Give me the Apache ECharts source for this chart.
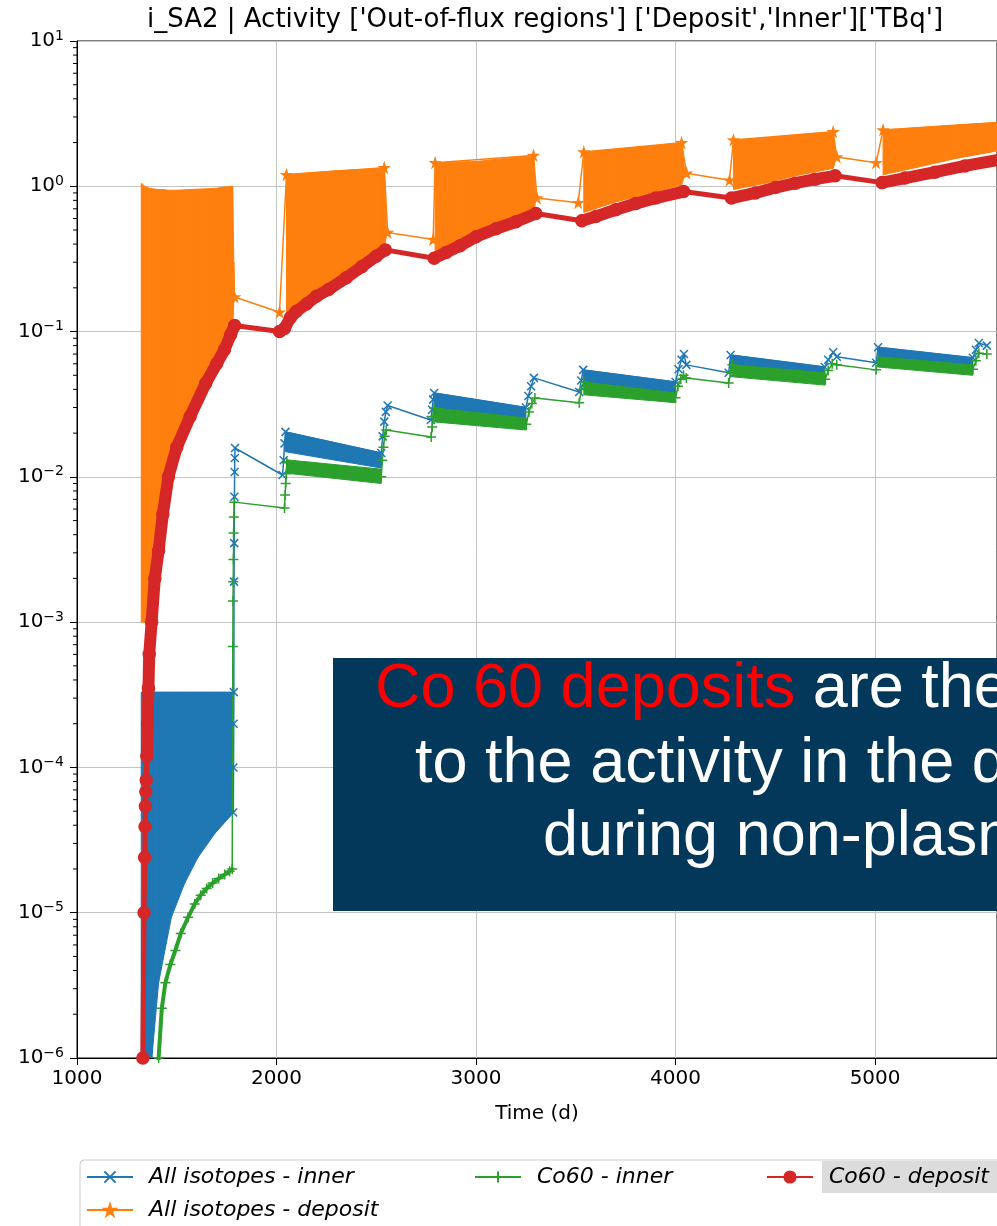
<!DOCTYPE html>
<html>
<head>
<meta charset="utf-8">
<script src="https://cdn.jsdelivr.net/npm/echarts@6/dist/echarts.min.js"></script>
<style>
html, body { margin: 0; padding: 0; background: #fff; }
#main { width: 997px; height: 1226px; }
</style>
</head>
<body>
<div id="main"></div>
<script>
// axis ticks
var xTicks = [1000, 2000, 3000, 4000, 5000];
var yTickExp = [-6, -5, -4, -3, -2, -1, 0, 1];

// Co60 - deposit, one array per operating phase: [day, TBq]
var depCo60P1 = [[1328, 4e-7], [1330, 1e-6], [1336, 1e-5], [1339, 2.4e-5], [1341, 3.9e-5], [1343, 5.4e-5],
  [1345, 6.8e-5], [1347, 8.2e-5], [1350, 1.2e-4], [1354, 2e-4], [1358, 3.5e-4], [1362, 6e-4], [1374, 1e-3],
  [1390, 2e-3], [1409, 3.1e-3], [1430, 5.5e-3], [1458, 1e-2], [1500, 1.6e-2], [1567, 2.6e-2], [1645, 4.4e-2],
  [1700, 6e-2], [1739, 7.5e-2], [1770, 9.5e-2], [1790, 0.11]];
var depCo60P2 = [[2015, 0.10], [2040, 0.105], [2070, 0.125], [2100, 0.138], [2150, 0.155], [2200, 0.175],
  [2261, 0.195], [2350, 0.235], [2428, 0.28], [2500, 0.33], [2545, 0.365]];
var depCo60P3 = [[2790, 0.32], [2850, 0.35], [2920, 0.39], [3000, 0.45], [3100, 0.51], [3200, 0.57], [3300, 0.65]];
var depCo60P4 = [[3530, 0.58], [3600, 0.62], [3700, 0.69], [3800, 0.76], [3900, 0.83], [4040, 0.92]];
var depCo60P5 = [[4280, 0.83], [4400, 0.9], [4500, 0.98], [4600, 1.05], [4700, 1.12], [4800, 1.18]];
var depCo60P6 = [[5035, 1.06], [5150, 1.14], [5300, 1.25], [5450, 1.38], [5620, 1.52]];

// All isotopes - deposit: pulsed band per phase [day, peak, floor] and the connecting line
var depAllBandP1 = [[1322, 1.05, 1e-3], [1340, 1.0, 1e-3], [1362, 0.97, 1e-3], [1380, 0.96, 1.5e-3],
  [1409, 0.95, 3.3e-3], [1430, 0.95, 6e-3], [1458, 0.94, 1.1e-2], [1500, 0.94, 1.7e-2], [1567, 0.95, 2.8e-2],
  [1645, 0.96, 4.7e-2], [1700, 0.97, 6.4e-2], [1739, 0.99, 8e-2], [1780, 1.0, 0.105], [1786, 0.3, 0.16],
  [1790, 0.18, 0.17]];
var depAllBandP2 = [[2050, 1.2, 0.12], [2100, 1.22, 0.14], [2200, 1.25, 0.18], [2300, 1.28, 0.23],
  [2400, 1.3, 0.27], [2500, 1.32, 0.34], [2540, 1.34, 0.38], [2550, 0.55, 0.45]];
var depAllBandP3 = [[2795, 1.45, 0.33], [2900, 1.47, 0.39], [3000, 1.48, 0.46], [3100, 1.53, 0.52],
  [3200, 1.58, 0.58], [3288, 1.63, 0.65], [3298, 0.9, 0.78]];
var depAllBandP4 = [[3540, 1.72, 0.66], [3700, 1.8, 0.78], [3850, 1.88, 0.88], [4030, 1.99, 1.02], [4045, 1.3, 1.18]];
var depAllBandP5 = [[4290, 2.08, 0.95], [4450, 2.15, 1.05], [4600, 2.25, 1.18], [4790, 2.37, 1.33], [4803, 1.65, 1.52]];
var depAllBandP6 = [[5040, 2.44, 1.2], [5200, 2.52, 1.34], [5400, 2.63, 1.55], [5620, 2.75, 1.76]];
var depAllLine = [[1790, 0.173], [2015, 0.136], [2050, 1.2], [2540, 1.34], [2557, 0.48], [2785, 0.43],
  [2795, 1.45], [3288, 1.63], [3305, 0.83], [3512, 0.77], [3540, 1.72], [4030, 1.99], [4055, 1.23],
  [4270, 1.1], [4290, 2.08], [4790, 2.37], [4808, 1.59], [5005, 1.45], [5040, 2.44], [5620, 2.75]];

// All isotopes - inner
var innAllBandP1 = [[1322, 3.3e-4, 1e-6], [1375, 3.3e-4, 1e-6], [1409, 3.3e-4, 3.3e-6], [1473, 3.3e-4, 9.3e-6],
  [1540, 3.3e-4, 1.6e-5], [1606, 3.3e-4, 2.4e-5], [1690, 3.3e-4, 3.5e-5], [1785, 3.3e-4, 4.9e-5]];
var innAllBandP2 = [[2045, 0.0204, 0.0149], [2525, 0.0146, 0.0115]];
var innAllBandP3 = [[2790, 0.0378, 0.029], [3250, 0.030, 0.0245]];
var innAllBandP4 = [[3537, 0.0545, 0.042], [4000, 0.045, 0.036]];
var innAllBandP5 = [[4276, 0.069, 0.055], [4748, 0.057, 0.047]];
var innAllBandP6 = [[5015, 0.078, 0.062], [5490, 0.066, 0.054]];
var innAllLine = [[1783, 4.9e-5], [1784, 1e-4], [1785, 2e-4], [1786, 3.3e-4], [1787, 1.9e-3], [1788, 3.5e-3],
  [1789, 7.3e-3], [1790, 1.08e-2], [1791, 1.35e-2], [1792, 1.58e-2], [2030, 1.03e-2], [2036, 1.3e-2],
  [2040, 1.7e-2], [2045, 2.04e-2], [2525, 1.46e-2], [2532, 1.9e-2], [2540, 2.4e-2], [2548, 2.8e-2],
  [2557, 3.1e-2], [2773, 2.46e-2], [2780, 2.9e-2], [2785, 3.4e-2], [2790, 3.78e-2], [3250, 3.0e-2],
  [3262, 3.6e-2], [3276, 4.2e-2], [3290, 4.8e-2], [3517, 3.84e-2], [3527, 4.6e-2], [3537, 5.45e-2],
  [4000, 4.5e-2], [4015, 5.5e-2], [4030, 6.4e-2], [4042, 7.0e-2], [4054, 5.9e-2], [4266, 5.2e-2],
  [4276, 6.9e-2], [4748, 5.7e-2], [4765, 6.4e-2], [4790, 7.2e-2], [4808, 6.7e-2], [5005, 6.1e-2],
  [5015, 7.8e-2], [5490, 6.6e-2], [5505, 7.5e-2], [5520, 8.35e-2], [5560, 8e-2]];

// Co60 - inner
var innCo60BandP2 = [[2050, 0.0131, 0.0106], [2525, 0.0113, 0.0090]];
var innCo60BandP3 = [[2790, 0.0298, 0.0239], [3252, 0.0254, 0.021]];
var innCo60BandP4 = [[3540, 0.045, 0.0367], [4000, 0.0378, 0.0324]];
var innCo60BandP5 = [[4285, 0.059, 0.0488], [4750, 0.052, 0.0428]];
var innCo60BandP6 = [[5015, 0.067, 0.057], [5490, 0.059, 0.050]];
var innCo60Line = [[1400, 5e-7], [1409, 1.0e-6], [1425, 2.2e-6], [1443, 3.3e-6], [1468, 4.4e-6], [1493, 5.5e-6],
  [1520, 7.2e-6], [1557, 9.3e-6], [1590, 1.15e-5], [1620, 1.32e-5], [1650, 1.47e-5], [1680, 1.6e-5],
  [1710, 1.72e-5], [1740, 1.83e-5], [1765, 1.93e-5], [1778, 2.0e-5], [1781, 6.8e-4], [1782, 1.4e-3],
  [1783, 1.9e-3], [1784, 2.7e-3], [1785, 4.1e-3], [1786, 5.3e-3], [1788, 6.7e-3], [2040, 6.1e-3],
  [2043, 7.5e-3], [2046, 9e-3], [2049, 1.05e-2], [2052, 1.25e-2], [2525, 1.0e-2], [2530, 1.3e-2],
  [2536, 1.6e-2], [2542, 1.9e-2], [2550, 2.1e-2], [2775, 1.88e-2], [2780, 2.2e-2], [2785, 2.6e-2],
  [2790, 2.98e-2], [3252, 2.3e-2], [3265, 2.8e-2], [3280, 3.2e-2], [3295, 3.49e-2], [3517, 3.24e-2],
  [3528, 4.0e-2], [3540, 4.5e-2], [4000, 3.5e-2], [4012, 4.2e-2], [4026, 4.7e-2], [4040, 5.0e-2],
  [4054, 4.8e-2], [4266, 4.43e-2], [4276, 5.2e-2], [4285, 5.9e-2], [4750, 4.7e-2], [4765, 5.4e-2],
  [4785, 6.0e-2], [4808, 5.9e-2], [5005, 5.45e-2], [5015, 6.2e-2], [5490, 5.5e-2], [5505, 6.3e-2],
  [5520, 7.1e-2], [5560, 7.0e-2]];

var BLUE = '#1f77b4', ORANGE = '#ff7f0e', GREEN = '#2ca02c', RED = '#d62728';
var X_PATH = 'path://M0,0L10,10M10,0L0,10';
var PLUS_PATH = 'path://M5,0L5,10M0,5L10,5';
var STAR_PATH = 'path://M50,0L61,35L98,35L68,57L79,91L50,70L21,91L32,57L2,35L39,35Z';
var FONT = 'DejaVu Sans';
var XMIN = 1000, XMAX = 5611;

function bandSeries(rows, color) {
  return {
    type: 'custom', silent: true, clip: true,
    data: rows,
    encode: { x: 0, y: 1 },
    renderItem: function (params, api) {
      var i = params.dataIndex;
      if (i >= rows.length - 1) return null;
      var a = rows[i], b = rows[i + 1];
      return {
        type: 'polygon',
        shape: { points: [api.coord([a[0], a[1]]), api.coord([b[0], b[1]]), api.coord([b[0], b[2]]), api.coord([a[0], a[2]])] },
        style: { fill: color, stroke: color, lineWidth: 1 }
      };
    }
  };
}

function lineSeries(name, rows, color, symbol, size, width) {
  return {
    name: name, type: 'line', data: rows,
    symbol: symbol, symbolSize: size, showSymbol: true,
    lineStyle: { color: color, width: width },
    itemStyle: { color: color, borderColor: color, borderWidth: 1.5 }
  };
}

function thickSeries(rows, color, width) {
  return {
    type: 'line', data: rows, symbol: 'none', silent: true,
    lineStyle: { color: color, width: width, cap: 'round', join: 'round' }
  };
}

// minor ticks of the log axis (2..9 per decade)
var minorTicks = [];
yTickExp.slice(0, -1).forEach(function (e) {
  for (var k = 2; k <= 9; k++) minorTicks.push([XMIN, k * Math.pow(10, e)]);
});

var depCo60All = depCo60P1.concat(depCo60P2, depCo60P3, depCo60P4, depCo60P5, depCo60P6);
var depCo60P1Band = depCo60P1.filter(function (p) { return p[1] >= 1e-4; });
var innCo60P1Curve = innCo60Line.filter(function (p) { return p[0] <= 1778; });

var series = [];
[innAllBandP1, innAllBandP2, innAllBandP3, innAllBandP4, innAllBandP5, innAllBandP6].forEach(function (b) {
  series.push(bandSeries(b, BLUE));
});
series.push(lineSeries('All isotopes - inner', innAllLine, BLUE, X_PATH, 8, 1.5));
[depAllBandP1, depAllBandP2, depAllBandP3, depAllBandP4, depAllBandP5, depAllBandP6].forEach(function (b) {
  series.push(bandSeries(b, ORANGE));
});
series.push(lineSeries('All isotopes - deposit', depAllLine, ORANGE, STAR_PATH, 9, 1.5));
[innCo60BandP2, innCo60BandP3, innCo60BandP4, innCo60BandP5, innCo60BandP6].forEach(function (b) {
  series.push(bandSeries(b, GREEN));
});
series.push(thickSeries(innCo60P1Curve, GREEN, 4));
series.push(lineSeries('Co60 - inner', innCo60Line, GREEN, PLUS_PATH, 10, 1.5));
[depCo60P1Band, depCo60P2, depCo60P3, depCo60P4, depCo60P5, depCo60P6].forEach(function (b) {
  series.push(thickSeries(b, RED, 12));
});
series.push(lineSeries('Co60 - deposit', depCo60All, RED, 'circle', 12, 5));
series.push({
  type: 'custom', silent: true, clip: false, data: minorTicks,
  renderItem: function (params, api) {
    var p = api.coord([api.value(0), api.value(1)]);
    return { type: 'line', shape: { x1: p[0] - 4, y1: p[1], x2: p[0], y2: p[1] }, style: { stroke: '#000', lineWidth: 1 } };
  }
});

var legendText = { fontFamily: FONT, fontStyle: 'italic', fontSize: 22, color: '#000', padding: [0, 0, 0, 11] };
function legendAt(names, left) {
  return {
    data: names, orient: 'vertical', left: left, top: 1166, itemGap: 11, padding: 0,
    itemWidth: 46, itemHeight: 14, selectedMode: false, textStyle: legendText
  };
}

var chart = echarts.init(document.getElementById('main'));
chart.setOption({
  animation: false,
  backgroundColor: '#fff',
  grid: { left: 77, right: -16, top: 41, bottom: 168, show: true, borderColor: '#000', borderWidth: 1 },
  legend: [
    legendAt(['All isotopes - inner', 'All isotopes - deposit'], 86),
    legendAt(['Co60 - inner'], 474),
    legendAt(['Co60 - deposit'], 766)
  ],
  xAxis: {
    type: 'value', min: XMIN, max: XMAX, interval: 1000,
    name: 'Time (d)', nameLocation: 'middle', nameGap: 46,
    nameTextStyle: { fontFamily: FONT, fontSize: 20, color: '#000' },
    axisLine: { lineStyle: { color: '#000', width: 1 } },
    axisTick: { length: 7, lineStyle: { color: '#000' } },
    axisLabel: {
      fontFamily: FONT, fontSize: 20, color: '#000', margin: 11, showMaxLabel: false,
      formatter: function (v) { return xTicks.indexOf(v) >= 0 ? String(v) : ''; }
    },
    splitLine: { lineStyle: { color: '#c4c4c4', width: 1 } }
  },
  yAxis: {
    type: 'log', logBase: 10, min: 1e-6, max: 10, splitNumber: 7,
    axisLine: { lineStyle: { color: '#000', width: 1 } },
    axisTick: { length: 7, lineStyle: { color: '#000' } },
    axisLabel: {
      fontFamily: FONT, fontSize: 20, color: '#000', margin: 13, lineHeight: 24,
      formatter: function (v) {
        var e = Math.round(Math.log10(v));
        if (yTickExp.indexOf(e) < 0) return '';
        return '10{s|' + (e < 0 ? '\u2212' + (-e) : e) + '}';
      },
      rich: { s: { fontFamily: FONT, fontSize: 14, color: '#000', verticalAlign: 'top', lineHeight: 14 } }
    },
    splitLine: { lineStyle: { color: '#c4c4c4', width: 1 } }
  },
  graphic: { elements: [
    { type: 'text', x: 545, y: 20, z: 10, style: {
      text: "i_SA2 | Activity ['Out-of-flux regions'] ['Deposit','Inner']['TBq']",
      fontFamily: FONT, fontSize: 26, fill: '#000', align: 'center', verticalAlign: 'middle' } },
    { type: 'rect', z: 0, shape: { x: 80, y: 1160, width: 960, height: 100, r: 4 },
      style: { fill: '#fff', stroke: '#cccccc', lineWidth: 1 } },
    { type: 'rect', z: 1, shape: { x: 822, y: 1161, width: 180, height: 32 }, style: { fill: '#dcdcdc' } },
    { type: 'rect', z: 100, shape: { x: 333, y: 658, width: 700, height: 253 }, style: { fill: '#03385a' } },
    { type: 'text', x: 375, y: 690, z: 101, style: {
      text: '{r|Co 60 deposits} are the main contributors', fill: '#fff',
      fontFamily: 'Liberation Sans', fontSize: 63, verticalAlign: 'middle',
      rich: { r: { fill: '#ff0000', fontFamily: 'Liberation Sans', fontSize: 63 } } } },
    { type: 'text', x: 415, y: 765, z: 101, style: {
      text: 'to the activity in the deposit regions', fill: '#fff',
      fontFamily: 'Liberation Sans', fontSize: 63, verticalAlign: 'middle' } },
    { type: 'text', x: 543, y: 838, z: 101, style: {
      text: 'during non-plasma operation', fill: '#fff',
      fontFamily: 'Liberation Sans', fontSize: 63, verticalAlign: 'middle' } }
  ] },
  series: series
});
</script>
</body>
</html>
